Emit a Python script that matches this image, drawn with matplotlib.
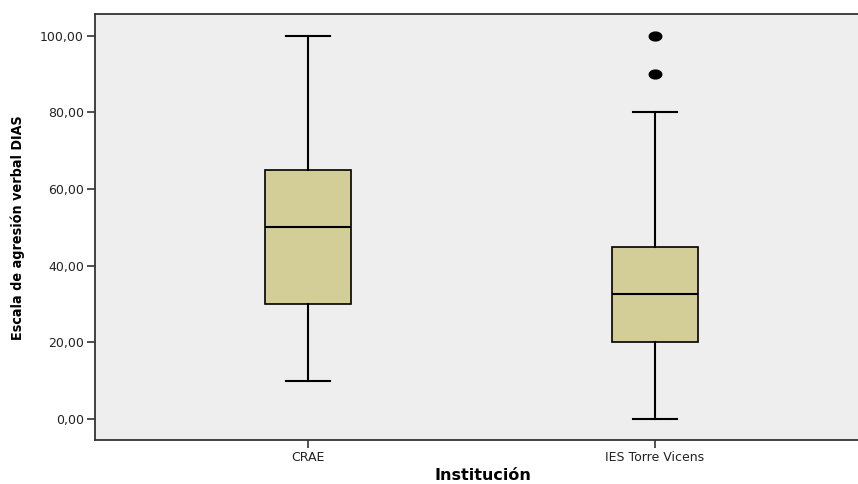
import matplotlib
matplotlib.use("Agg")
import matplotlib.pyplot as plt
from matplotlib.path import Path
import numpy as np

categories = ["CRAE", "IES Torre Vicens"]
whislo = [10.0, 0.0]
q1 = [30.0, 20.0]
med = [50.0, 32.5]
q3 = [65.0, 45.0]
whishi = [100.0, 80.0]
fliers = [[], [90.0, 100.0]]
yticks = [0, 20, 40, 60, 80, 100]
ytick_labels = ["0,00", "20,00", "40,00", "60,00", "80,00", "100,00"]

fig = plt.figure(figsize=(8.58, 4.84), dpi=100)
ax = fig.add_axes([95/858, 1-440/484, (868-95)/858, 426/484])
ax.set_facecolor("#EEEEEE")

stats = []
for i, c in enumerate(categories):
    stats.append(dict(label=c, whislo=whislo[i], q1=q1[i], med=med[i],
                      q3=q3[i], whishi=whishi[i], fliers=fliers[i]))

t = np.linspace(0, 2*np.pi, 60)
ell = Path(np.column_stack([1.35*np.cos(t), 0.95*np.sin(t)]), closed=True)

ax.bxp(stats, positions=[1, 2], widths=0.25, capwidths=0.127, patch_artist=True,
       boxprops=dict(facecolor="#D3CE97", edgecolor="black", linewidth=1.2),
       medianprops=dict(color="black", linewidth=1.5),
       whiskerprops=dict(color="black", linewidth=1.5),
       capprops=dict(color="black", linewidth=1.5),
       flierprops=dict(marker=ell, markerfacecolor="black", markeredgecolor="black",
                       markersize=9, linestyle="none"))

ax.set_xlim(0.386, 2.614)
ax.set_ylim(-5.5, 105.7)
ax.set_yticks(yticks)
ax.set_yticklabels(ytick_labels)
ax.set_xticks([1, 2])
ax.set_xticklabels(categories)
for lab in ax.get_xticklabels() + ax.get_yticklabels():
    lab.set_fontfamily("DejaVu Sans")
    lab.set_fontsize(9)
    lab.set_color("#222222")
ax.tick_params(axis="both", direction="out", length=6, width=1.2, color="#333333")
ax.tick_params(axis="x", pad=2)
ax.tick_params(axis="y", pad=2)
for s in ["top", "left", "bottom", "right"]:
    ax.spines[s].set_color("#333333")
    ax.spines[s].set_linewidth(1.3)

fig.text(18/858, 1-228/484, "Escala de agresión verbal DIAS", rotation=90,
         ha="center", va="center", fontsize=10.3, fontweight="bold",
         family="DejaVu Sans", fontstretch="condensed")
fig.text(483/858, 1-480/484, "Institución", ha="center", va="baseline",
         fontsize=11.5, fontweight="bold", family="DejaVu Sans")

fig.savefig("out.png", dpi=100)
